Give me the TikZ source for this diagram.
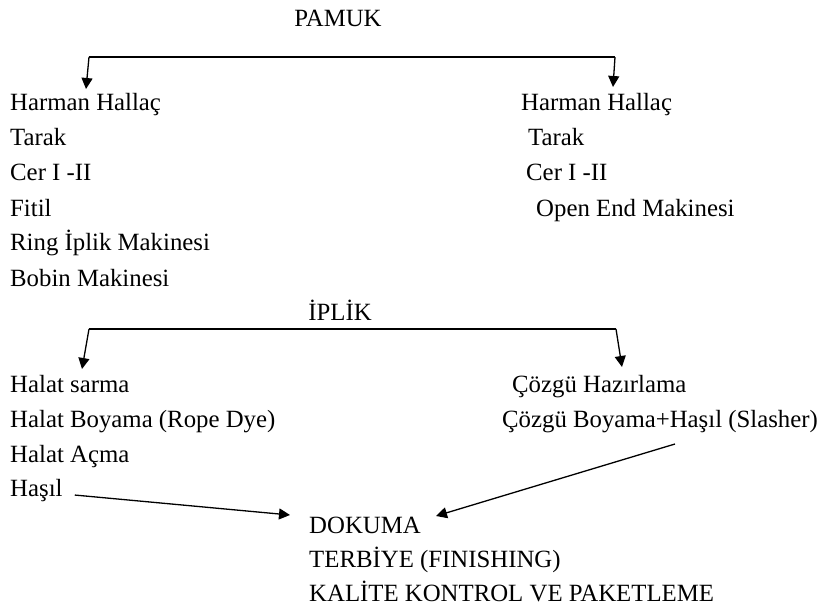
\documentclass[tikz,border=0pt]{standalone}
\usepackage{fontspec}
\setmainfont{Liberation Serif}
\usetikzlibrary{arrows.meta}

\begin{document}
\begin{tikzpicture}[x=1pt, y=-1pt,
  yazi/.style={anchor=base west, inner sep=0pt, font=\fontsize{24.8}{28}\selectfont},
  cizgi/.style={black, line width=1.1pt},
  ok/.style={-{Triangle[length=11pt, width=11pt]}, black, line width=1.3pt}]
\useasboundingbox (0,0) rectangle (828,607);
% ust kisim
\node[yazi, anchor=base] (pamuk) at (338,27) {PAMUK};
\node[yazi] (hh1) at (10,111) {Harman Hallaç};
\node[yazi] (tr1) at (10,146) {Tarak};
\node[yazi] (cr1) at (10,181) {Cer I -II};
\node[yazi] (fitil) at (10,216) {Fitil};
\node[yazi] (ring) at (10,251) {Ring İplik Makinesi};
\node[yazi] (bobin) at (10,286) {Bobin Makinesi};
\node[yazi] (hh2) at (521,111) {Harman Hallaç};
\node[yazi] (tr2) at (528,146) {Tarak};
\node[yazi] (cr2) at (526,181) {Cer I -II};
\node[yazi] (oe) at (536,216) {Open End Makinesi};
\coordinate (p1) at (89,57);
\coordinate (p2) at (615,57);
\draw[cizgi] (p1) -- (p2);
\draw[ok] (p1) -- (86,89) coordinate (p1u);
\draw[ok] (p2) -- (613,87) coordinate (p2u);
% iplik
\node[yazi, anchor=base] (iplik) at (340,320) {İPLİK};
\node[yazi] (hs) at (10,392) {Halat sarma};
\node[yazi] (hb) at (10,427) {Halat Boyama (Rope Dye)};
\node[yazi] (ha) at (10,462) {Halat Açma};
\node[yazi] (hasil) at (10,496) {Haşıl};
\node[yazi] (ch) at (512,392) {Çözgü Hazırlama};
\node[yazi] (cb) at (502,427) {Çözgü Boyama+Haşıl (Slasher)};
\coordinate (i1) at (89,329);
\coordinate (i2) at (616,329);
\draw[cizgi] (i1) -- (i2);
\draw[ok] (i1) -- (82,369) coordinate (i1u);
\draw[ok] (i2) -- (622,367) coordinate (i2u);
% dokuma
\node[yazi] (dokuma) at (309,533) {DOKUMA};
\node[yazi] (terbiye) at (309,567) {TERBİYE (FINISHING)};
\node[yazi] (kalite) at (309,601) {KALİTE KONTROL VE PAKETLEME};
\coordinate (d1) at (290,515);
\coordinate (d2) at (436,516);
\coordinate (c1) at (675,444);
\draw[ok] ([xshift=12pt,yshift=-5pt]hasil.east) -- (d1);
\draw[ok] (c1) -- (d2);
\end{tikzpicture}
\end{document}
